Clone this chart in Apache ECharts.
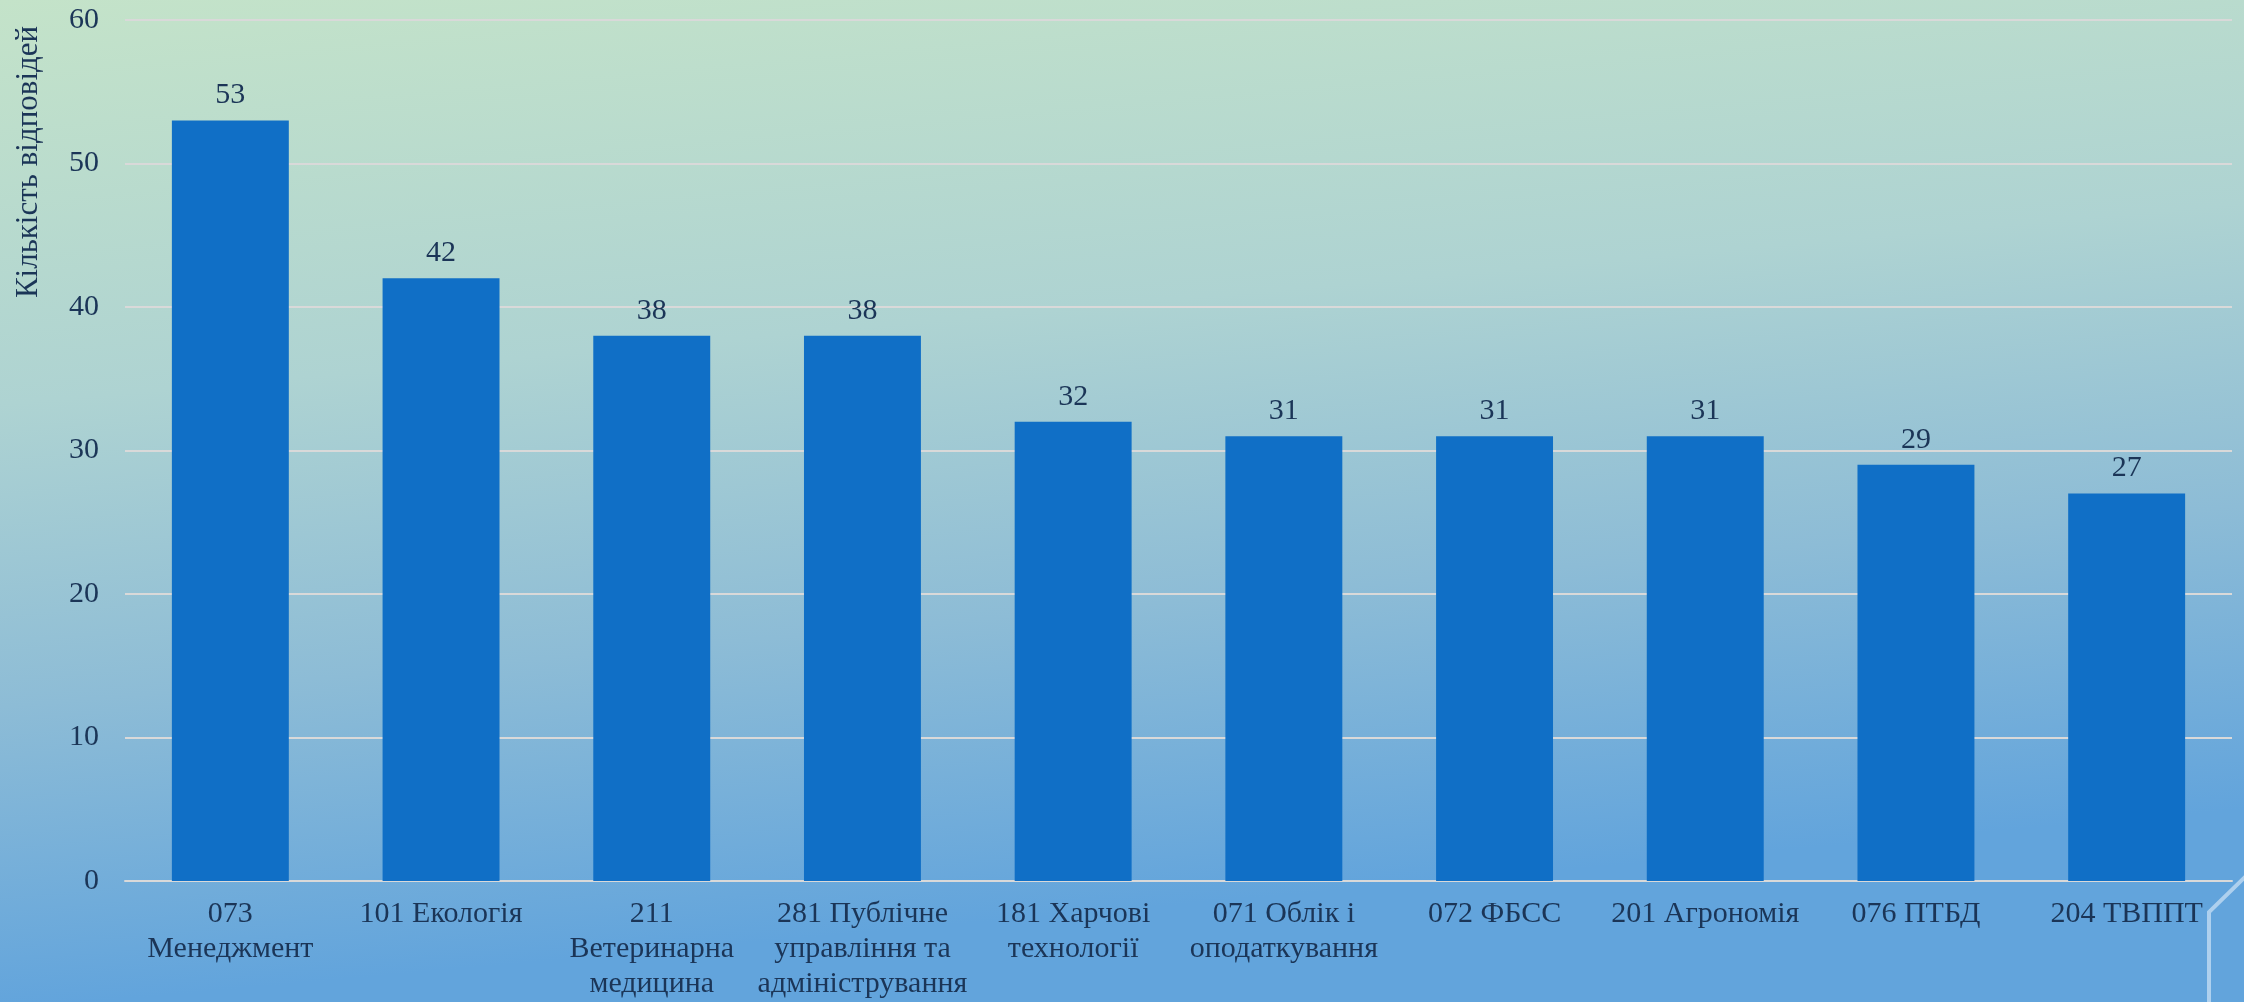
<!DOCTYPE html>
<html>
<head>
<meta charset="utf-8">
<style>
  html, body { margin: 0; padding: 0; }
  #chart { width: 2244px; height: 1002px; }
</style>
<script src="https://cdn.jsdelivr.net/npm/echarts@6/dist/echarts.min.js"></script>
</head>
<body>
<div id="chart"></div>
<script>
// дані діаграми
var categories = [
  '073\nМенеджмент',
  '101 Екологія',
  '211\nВетеринарна\nмедицина',
  '281 Публічне\nуправління та\nадміністрування',
  '181 Харчові\nтехнології',
  '071 Облік і\nоподаткування',
  '072 ФБСС',
  '201 Агрономія',
  '076 ПТБД',
  '204 ТВППТ'
];
var answers = [53, 42, 38, 38, 32, 31, 31, 31, 29, 27];
var yTitle = 'Кількість відповідей';

var fontFam = "'Liberation Serif', 'Times New Roman', serif";
var textColor = '#1b3557';

var chart = echarts.init(document.getElementById('chart'));
chart.setOption({
  backgroundColor: new echarts.graphic.LinearGradient(0, 0, 0.04, 1, [
    { offset: 0, color: '#c4e3c9' },
    { offset: 0.4, color: '#aed3d2' },
    { offset: 0.7, color: '#8dbcd6' },
    { offset: 1, color: '#62a4dc' }
  ]),
  animation: false,
  grid: {
    left: 125,
    right: 12,
    top: 20,
    bottom: 121,
    containLabel: false
  },
  graphic: [
    {
      type: 'text',
      x: 29,
      y: 162,
      rotation: Math.PI / 2,
      style: {
        text: yTitle,
        font: '31px ' + fontFam,
        fill: textColor,
        textAlign: 'center',
        textVerticalAlign: 'middle'
      }
    },
    {
      type: 'polyline',
      shape: { points: [[2246, 876], [2209, 912], [2209, 1004]] },
      style: { stroke: 'rgba(215,232,248,0.65)', lineWidth: 4, fill: null }
    }
  ],
  xAxis: {
    type: 'category',
    data: categories,
    axisTick: { show: false },
    axisLine: { show: true, lineStyle: { color: '#d9d9d9', width: 2 } },
    axisLabel: {
      interval: 0,
      margin: 16,
      color: textColor,
      fontFamily: fontFam,
      fontSize: 30,
      lineHeight: 35,
      align: 'center'
    },
    splitLine: { show: false }
  },
  yAxis: {
    type: 'value',
    min: 0,
    max: 60,
    interval: 10,
    axisLine: { show: false },
    axisTick: { show: false },
    axisLabel: {
      margin: 26,
      color: textColor,
      fontFamily: fontFam,
      fontSize: 30
    },
    splitLine: { show: true, lineStyle: { color: '#d9d9d9', width: 2 } }
  },
  series: [{
    name: yTitle,
    type: 'bar',
    data: answers,
    barWidth: '55.5%',
    itemStyle: { color: '#106fc6' },
    label: {
      show: true,
      position: 'top',
      distance: 10,
      color: textColor,
      fontFamily: fontFam,
      fontSize: 30
    }
  }]
});
</script>
</body>
</html>
